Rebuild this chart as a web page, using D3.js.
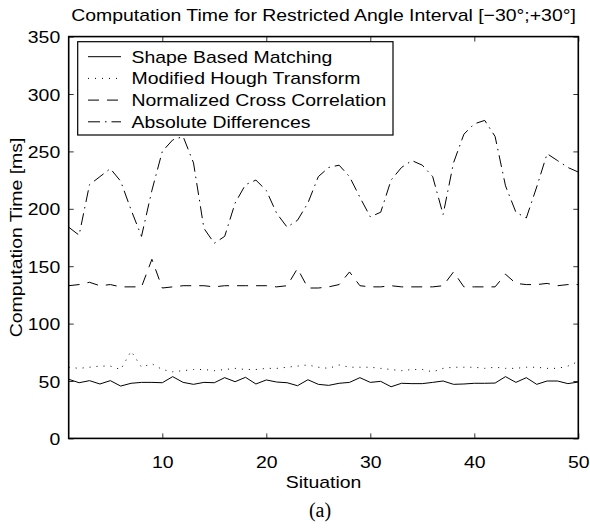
<!DOCTYPE html>
<html><head><meta charset="utf-8">
<script src="https://cdn.jsdelivr.net/npm/d3@7"></script>
<style>body{margin:0;background:#fff}svg{display:block}</style>
</head><body>
<script>
const situations = d3.range(1, 51);
const shapeBased = [51.5,48.5,50.3,47.4,50.3,45.6,48,48.8,48.8,48.5,
  53.8,48.8,47.1,48.8,48.5,52.9,49.4,53.2,47.4,50.9,
  49.1,48.5,45.9,51.1,47.1,46.2,48,48.8,52.9,48.8,
  49.7,45,48,47.7,47.7,48.8,50,47.1,47.4,48,
  48,48.2,53.8,48.8,52.9,47.1,50,50,47.7,49.1];
const hough = [62,61,62,63,63,60,76,62,65,60,
  58,59,60,60,59,60,61,60,60,61,
  61,62,63,64,62,61,64,62,62,62,
  61,60,59,60,60,58,61,62,62,62,
  61,62,61,61,62,62,61,61,63,67];
const ncc = [133,134,136,133,134,132,132,132,156,131,
  132,133,133,133,132,133,133,133,133,133,
  132,133,148,131,131,132,134,145,133,132,
  132,133,132,132,132,132,133,145,132,132,
  132,132,143,135,134,134,135,133,134,134];
const absDiff = [184,177,221,228,235,224,199,176,216,250,
  260,263,240,183,170,176,205,221,225,216,
  196,184,190,205,228,236,238,228,210,193,
  197,225,236,242,238,228,195,240,265,274,
  277,263,220,197,192,219,248,242,236,232];
const seriesNames = ["Shape Based Matching","Modified Hough Transform","Normalized Cross Correlation","Absolute Differences"];
const xTicks = [10,20,30,40,50];
const yTicks = [0,50,100,150,200,250,300,350];
const titleText = "Computation Time for Restricted Angle Interval [\u221230\u00b0;+30\u00b0]";
const xLabel = "Situation";
const yLabel = "Computation Time [ms]";
const caption = "(a)";

const W = 590, H = 530;
const L = 68.7, R = 578.3, T = 36.6, B = 438.4;
const FONT = "'Liberation Sans', Arial, Helvetica, sans-serif";
const FS = 17.2, SX = 1.13;
const dashes = [null, "1,6", "11,8", "12,5,1.5,5"];
const allSeries = [shapeBased, hough, ncc, absDiff];

const svg = d3.select("body").append("svg").attr("width", W).attr("height", H);
const x = d3.scaleLinear().domain([1, 50]).range([L, R]);
const y = d3.scaleLinear().domain([0, 350]).range([B, T]);

function stext(g, tx, ty, s, anchor, rot) {
  return g.append("text")
    .attr("transform", `translate(${tx},${ty})` + (rot ? ` rotate(${rot})` : "") + ` scale(${SX},1)`)
    .attr("text-anchor", anchor || "middle")
    .attr("font-family", FONT).attr("font-size", FS).attr("fill", "#000")
    .text(s);
}

// axes
const gx = svg.append("g").attr("transform", `translate(0,${B})`)
  .call(d3.axisBottom(x).tickValues(xTicks).tickSizeInner(-5).tickSizeOuter(0).tickPadding(0).tickFormat(d3.format("d")));
gx.selectAll("text").attr("y", 30).attr("dy", 0).attr("transform", `scale(${SX},1)`)
  .attr("font-family", FONT).attr("font-size", FS).attr("fill", "#000");
const gxt = svg.append("g").attr("transform", `translate(0,${T})`)
  .call(d3.axisTop(x).tickValues(xTicks).tickSizeInner(-5).tickSizeOuter(0).tickFormat(""));
const gy = svg.append("g").attr("transform", `translate(${L},0)`)
  .call(d3.axisLeft(y).tickValues(yTicks).tickSizeInner(-5).tickSizeOuter(0).tickFormat(d3.format("d")));
gy.selectAll("text").attr("x", -8.5 / SX).attr("dy", "0.36em").attr("transform", `scale(${SX},1)`)
  .attr("font-family", FONT).attr("font-size", FS).attr("fill", "#000");
const gyr = svg.append("g").attr("transform", `translate(${R},0)`)
  .call(d3.axisRight(y).tickValues(yTicks).tickSizeInner(-5).tickSizeOuter(0).tickFormat(""));
[gx, gxt, gy, gyr].forEach(g => { g.select(".domain").remove(); g.selectAll("line").attr("stroke", "#000").attr("stroke-width", 0.8); });

// lines
const line = d3.line().x((d, i) => x(situations[i])).y(d => y(d));
allSeries.forEach((s, k) => {
  svg.append("path").datum(s).attr("d", line).attr("fill", "none")
    .attr("stroke", "#000").attr("stroke-width", 1)
    .attr("stroke-dasharray", dashes[k]);
});

// frame
svg.append("rect").attr("x", L).attr("y", T).attr("width", R - L).attr("height", B - T)
  .attr("fill", "none").attr("stroke", "#000").attr("stroke-width", 1.6);

// legend
const lg = svg.append("g");
lg.append("rect").attr("x", 77.7).attr("y", 41.7).attr("width", 393 - 77.7).attr("height", 135 - 41.7)
  .attr("fill", "#fff").attr("stroke", "#000").attr("stroke-width", 1.2);
seriesNames.forEach((n, k) => {
  const cy = 56.7 + k * 21.7;
  lg.append("line").attr("x1", 88).attr("x2", 121).attr("y1", cy).attr("y2", cy)
    .attr("stroke", "#000").attr("stroke-width", 1).attr("stroke-dasharray", dashes[k]);
  stext(lg, 131.5, cy + 6, n, "start");
});

// titles
stext(svg, (L + R) / 2, 21, titleText);
stext(svg, (L + R) / 2, 488, xLabel);
stext(svg, 22, (T + B) / 2, yLabel, "middle", -90);
svg.append("text").attr("x", 320).attr("y", 517).attr("text-anchor", "middle")
  .attr("font-family", "'Liberation Serif', 'Times New Roman', serif").attr("font-size", 20).attr("fill", "#000")
  .text(caption);
</script>
</body></html>
